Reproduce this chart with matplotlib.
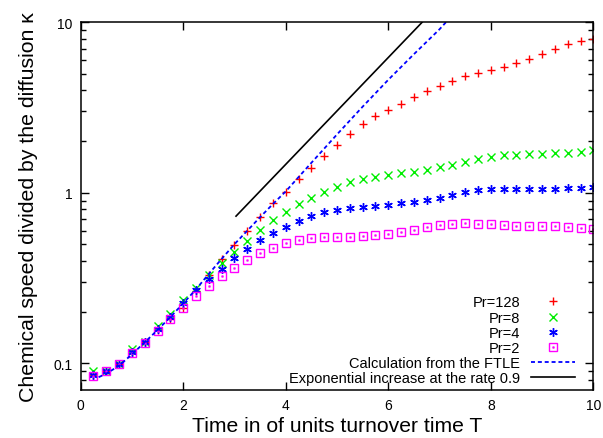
import numpy as np
import matplotlib
matplotlib.use("Agg")
import matplotlib.pyplot as plt
from matplotlib.legend_handler import HandlerTuple
from matplotlib.ticker import LogLocator, NullFormatter, FixedLocator, FixedFormatter

plt.rcParams["font.family"] = ["Liberation Sans", "DejaVu Sans"]

# Sampling times (in turnover times T)
time = [0.25, 0.5, 0.75, 1.0, 1.25, 1.5, 1.75, 2.0, 2.25, 2.5,
        2.75, 3.0, 3.25, 3.5, 3.75, 4.0, 4.25, 4.5, 4.75, 5.0,
        5.25, 5.5, 5.75, 6.0, 6.25, 6.5, 6.75, 7.0, 7.25, 7.5,
        7.75, 8.0, 8.25, 8.5, 8.75, 9.0, 9.25, 9.5, 9.75, 10.0]

pr128 = [0.086, 0.090, 0.099, 0.115, 0.133, 0.157, 0.182, 0.212, 0.265, 0.328,
         0.411, 0.492, 0.594, 0.720, 0.866, 1.01, 1.20, 1.40, 1.64, 1.90,
         2.21, 2.53, 2.82, 3.07, 3.33, 3.64, 3.93, 4.22, 4.54, 4.81,
         5.05, 5.26, 5.50, 5.75, 6.12, 6.50, 6.95, 7.44, 7.80, 8.01]

pr8 = [0.090, 0.0905, 0.099, 0.121, 0.133, 0.165, 0.194, 0.234, 0.275, 0.331,
       0.390, 0.452, 0.521, 0.602, 0.689, 0.774, 0.860, 0.932, 1.01, 1.08,
       1.15, 1.20, 1.24, 1.28, 1.30, 1.33, 1.37, 1.41, 1.46, 1.51,
       1.57, 1.62, 1.66, 1.67, 1.69, 1.70, 1.71, 1.72, 1.74, 1.78]

pr4 = [0.0858, 0.0905, 0.099, 0.116, 0.133, 0.159, 0.188, 0.227, 0.269, 0.311,
       0.360, 0.415, 0.470, 0.528, 0.583, 0.633, 0.683, 0.733, 0.767, 0.795,
       0.820, 0.828, 0.832, 0.843, 0.866, 0.889, 0.910, 0.935, 0.977, 1.01,
       1.04, 1.05, 1.05, 1.05, 1.05, 1.055, 1.06, 1.07, 1.07, 1.08]

pr2 = [0.0846, 0.0901, 0.0986, 0.115, 0.1315, 0.155, 0.181, 0.211, 0.248, 0.286,
       0.325, 0.364, 0.403, 0.442, 0.472, 0.505, 0.528, 0.543, 0.553, 0.553,
       0.550, 0.555, 0.565, 0.575, 0.588, 0.608, 0.630, 0.647, 0.655, 0.661,
       0.659, 0.653, 0.647, 0.641, 0.638, 0.638, 0.635, 0.633, 0.624, 0.612]

# Prediction from the finite-time Lyapunov exponent
ftle_time = [0.35, 0.5, 0.75, 1.0, 1.25, 1.5, 1.75, 2.0, 2.25, 2.5,
             2.75, 3.0, 3.25, 3.5, 3.75, 4.0, 4.5, 5.0, 5.5, 6.0,
             6.5, 7.0, 7.25]
ftle_val = [0.083, 0.087, 0.097, 0.113, 0.133, 0.157, 0.187, 0.225, 0.272, 0.335,
            0.410, 0.500, 0.600, 0.720, 0.860, 1.02, 1.50, 2.20, 3.20, 4.60,
            6.50, 9.10, 11.0]

# Reference exponential (straight line on the log axis)
exp_time = [3.03, 6.66]
exp_val = [0.73, 10.0]

RED, GREEN, BLUE, MAGENTA = "#ff0000", "#00ee00", "#0000ff", "#ff00ff"

fig = plt.figure(figsize=(6.03, 4.39), dpi=100)
ax = fig.add_axes([0.1338, 0.110, 0.8502, 0.837])

ms = 5.2
mew = 1.0
asterisk = (6, 2, 0)

h128, = ax.plot(time, pr128, ls="none", marker="+", ms=ms + 1, mew=mew, color=RED)
h8, = ax.plot(time, pr8, ls="none", marker="x", ms=ms, mew=mew, color=GREEN)
h4, = ax.plot(time, pr4, ls="none", marker=asterisk, ms=ms + 1, mew=mew, color=BLUE)
h2a, = ax.plot(time, pr2, ls="none", marker="s", ms=ms, mew=mew, mfc="none", color=MAGENTA)
h2b, = ax.plot(time, pr2, ls="none", marker="s", ms=1.0, mew=0.6, color=MAGENTA)

hf, = ax.plot(ftle_time, ftle_val, color=BLUE, lw=1.3, ls=(0, (2.2, 1.6)))
he, = ax.plot(exp_time, exp_val, color="black", lw=1.2)

ax.set_yscale("log")
ax.set_xlim(0, 10)
ax.set_ylim(0.0701, 10)

ax.xaxis.set_major_locator(FixedLocator([0, 2, 4, 6, 8, 10]))
ax.yaxis.set_major_locator(FixedLocator([0.1, 1, 10]))
ax.yaxis.set_major_formatter(FixedFormatter(["0.1", "1", "10"]))
ax.yaxis.set_minor_locator(LogLocator(base=10, subs=np.arange(2, 10)))
ax.yaxis.set_minor_formatter(NullFormatter())

ax.tick_params(which="both", direction="in", top=True, right=True, labelsize=10,
               width=1.0, color="black")
ax.tick_params(which="major", length=6, pad=6)
ax.tick_params(which="minor", length=3.5)
for s in ax.spines.values():
    s.set_linewidth(1.1)

ax.set_xlabel("Time in of units turnover time T", fontsize=15.2, labelpad=3)
ax.set_ylabel("Chemical speed divided by the diffusion κ", fontsize=15.3, labelpad=11)

handles = [h128, h8, h4, (h2a, h2b), hf, he]
labels = ["Pr=128", "Pr=8", "Pr=4", "Pr=2",
          "Calculation from the FTLE", "Exponential increase at the rate 0.9"]
ax.legend(handles, labels, loc="lower right", bbox_to_anchor=(0.964, 0.012),
          frameon=False, markerfirst=False, fontsize=10.5, handlelength=3.0,
          handletextpad=0.75, labelspacing=0.08, borderpad=0, borderaxespad=0,
          handler_map={tuple: HandlerTuple(ndivide=1)})

fig.savefig("out.png", dpi=100)
